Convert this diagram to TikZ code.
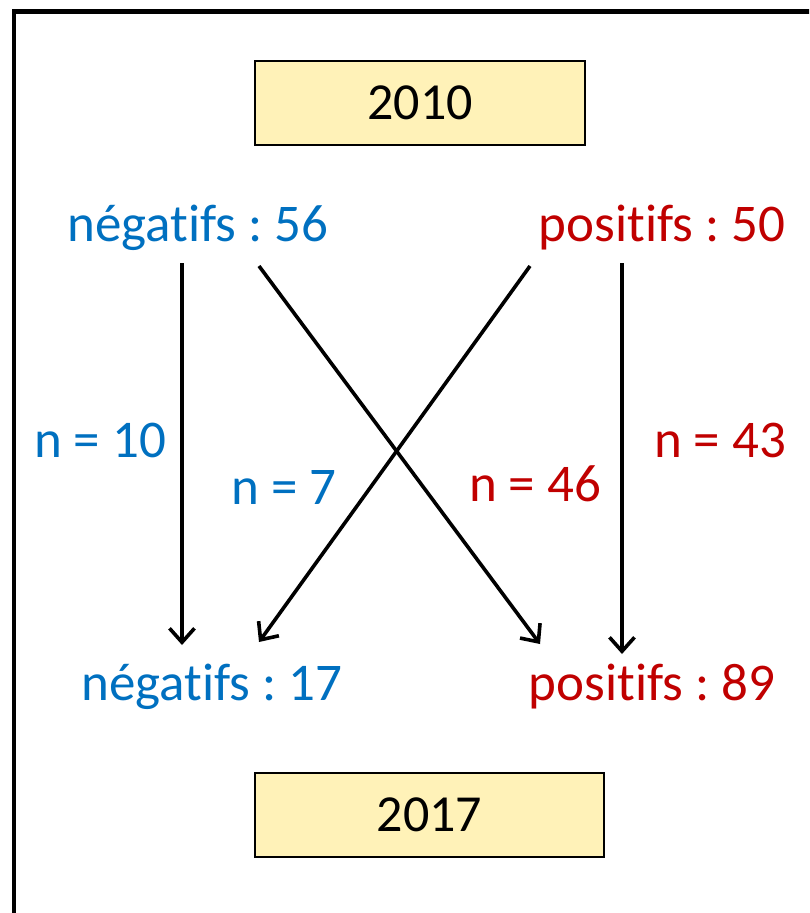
\documentclass[tikz,border=0pt]{standalone}
\usepackage{fontspec}
\setmainfont{Carlito}[Ligatures=NoCommon]
\usetikzlibrary{arrows.meta}
\definecolor{negblue}{HTML}{0070C0}
\definecolor{posred}{HTML}{C00000}
\definecolor{yearfill}{HTML}{FFF2B8}
\frenchspacing
\begin{document}
\begin{tikzpicture}[x=1pt,y=-1pt,
  yearbox/.style={draw=black, line width=1.6pt, fill=yearfill, minimum width=330pt, minimum height=84pt, inner sep=0pt, font=\fontsize{52}{60}\selectfont},
  lab/.style={inner sep=0pt, font=\fontsize{53}{60}\selectfont},
  neglab/.style={lab, text=negblue},
  poslab/.style={lab, text=posred},
  flow/.style={line width=3.6pt, -{Straight Barb[length=14pt, width=25pt, line width=3.6pt]}}]
\useasboundingbox (0,0) rectangle (809,913);
\begin{scope}
\clip (0,0) rectangle (809,913);
\draw[line width=4.5pt] (14,940) -- (14,11.5) -- (840,11.5);
\end{scope}
\node[yearbox] (y1) at (420,103) {2010};
\node[yearbox, minimum width=349pt] (y2) at (429.5,815) {2017};
\node[neglab] (n56) at (198,228) {négatifs : 56};
\node[poslab] (p50) at (662,228) {positifs : 50};
\node[neglab] (n17) at (212,687) {négatifs : 17};
\node[poslab] (p89) at (652,687) {positifs : 89};
\coordinate (a1s) at (182,263); \coordinate (a1e) at (182,645);
\coordinate (a2s) at (259,266); \coordinate (a2e) at (540,644);
\coordinate (a3s) at (530,266); \coordinate (a3e) at (259,642);
\coordinate (a4s) at (622,263); \coordinate (a4e) at (622,654);
\draw[flow] (a1s) -- (a1e);
\draw[flow] (a2s) -- (a2e);
\draw[flow] (a3s) -- (a3e);
\draw[flow] (a4s) -- (a4e);
\node[neglab] (l10) at (100,440) {n = 10};
\node[neglab] (l7) at (284,487) {n = 7};
\node[poslab] (l46) at (535,484) {n = 46};
\node[poslab] (l43) at (720,440) {n = 43};
\end{tikzpicture}
\end{document}
